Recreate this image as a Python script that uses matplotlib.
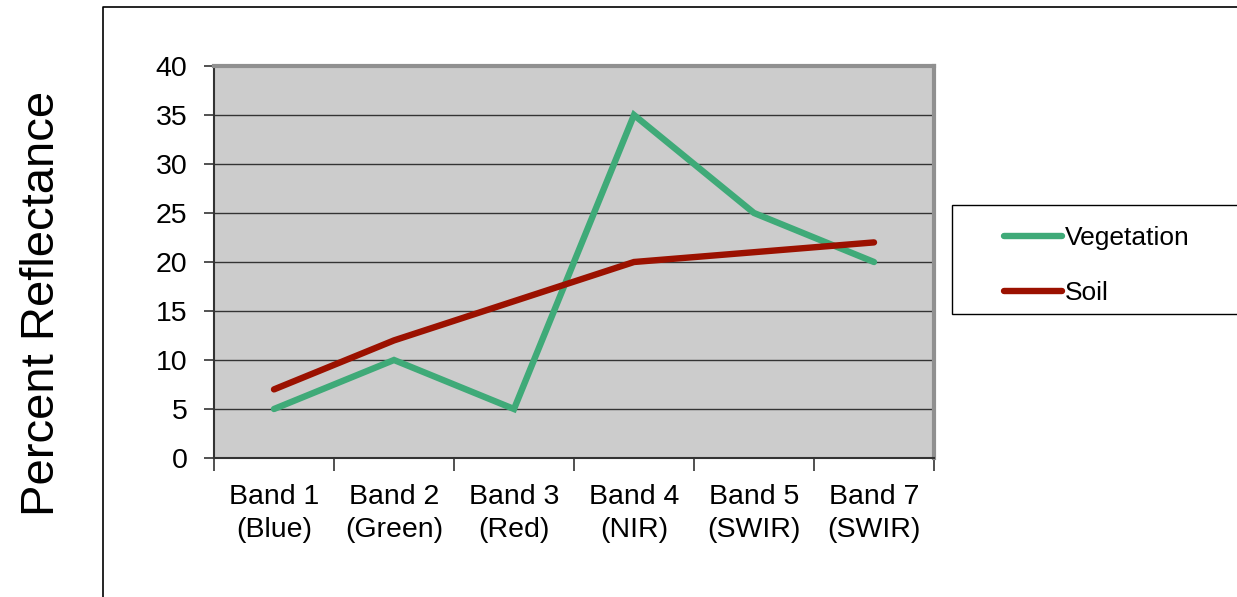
import matplotlib.pyplot as plt
from matplotlib.lines import Line2D
from matplotlib.patches import Rectangle

plt.rcParams['font.family'] = ['Liberation Sans', 'DejaVu Sans']

bands = ["Band 1\n(Blue)", "Band 2\n(Green)", "Band 3\n(Red)",
         "Band 4\n(NIR)", "Band 5\n(SWIR)", "Band 7\n(SWIR)"]
vegetation = [5, 10, 5, 35, 25, 20]
soil = [7, 12, 16, 20, 21, 22]
y_ticks = [0, 5, 10, 15, 20, 25, 30, 35, 40]

veg_color = '#3faa78'
soil_color = '#9b1100'

fig = plt.figure(figsize=(12.37, 5.97), dpi=100)
ax = fig.add_axes([214 / 1237, 1 - 458 / 597, 720 / 1237, 392 / 597])
ax.set_facecolor('#cccccc')

x = list(range(len(bands)))
ax.plot(x, vegetation, color=veg_color, linewidth=4.6, solid_capstyle='round',
        solid_joinstyle='miter', label='Vegetation', zorder=3)
ax.plot(x, soil, color=soil_color, linewidth=4.6, solid_capstyle='round',
        solid_joinstyle='miter', label='Soil', zorder=3)

ax.set_xlim(-0.5, len(bands) - 0.5)
ax.set_ylim(0, 40)
ax.set_yticks(y_ticks)
ax.set_yticklabels([str(v) for v in y_ticks], fontsize=20.5)
ax.tick_params(axis='y', length=7, width=1.2, pad=12, color='#333333')
ax.yaxis.grid(True, color='#333333', linewidth=1.0)
ax.set_axisbelow(True)

# category boundaries get the tick marks, centres get the labels
ax.set_xticks([i - 0.5 for i in range(len(bands) + 1)])
ax.set_xticklabels([])
ax.set_xticks(x, minor=True)
ax.set_xticklabels(bands, minor=True, fontsize=20.5, linespacing=1.35)
ax.tick_params(axis='x', which='major', length=9, width=1.2, color='#333333')
ax.tick_params(axis='x', which='minor', length=0, pad=19)

for s in ['top', 'right']:
    ax.spines[s].set_color('#909090')
    ax.spines[s].set_linewidth(3)
for s in ['left', 'bottom']:
    ax.spines[s].set_color('#333333')
    ax.spines[s].set_linewidth(1.5)

fig.text(42 / 1237, 1 - 303 / 597, "Percent Reflectance", rotation=90,
         ha='center', va='center', fontsize=34)

# outer chart frame (left and top edges visible)
fig.add_artist(Line2D([103 / 1237, 103 / 1237, 1.01], [-0.01, 1 - 7 / 597, 1 - 7 / 597],
                      color='black', linewidth=1.2, transform=fig.transFigure))

# legend box
fig.add_artist(Rectangle((952 / 1237, 1 - 314 / 597), 0.3, 109 / 597,
                         facecolor='white', edgecolor='black', linewidth=1.0,
                         transform=fig.transFigure))
fig.legend(handles=ax.get_lines(), loc='upper left',
           bbox_to_anchor=(980 / 1237, 1 - 202 / 597), frameon=False,
           fontsize=19, handlelength=2.2, handletextpad=0.1, labelspacing=1.2)

plt.savefig("out.png", dpi=100)
